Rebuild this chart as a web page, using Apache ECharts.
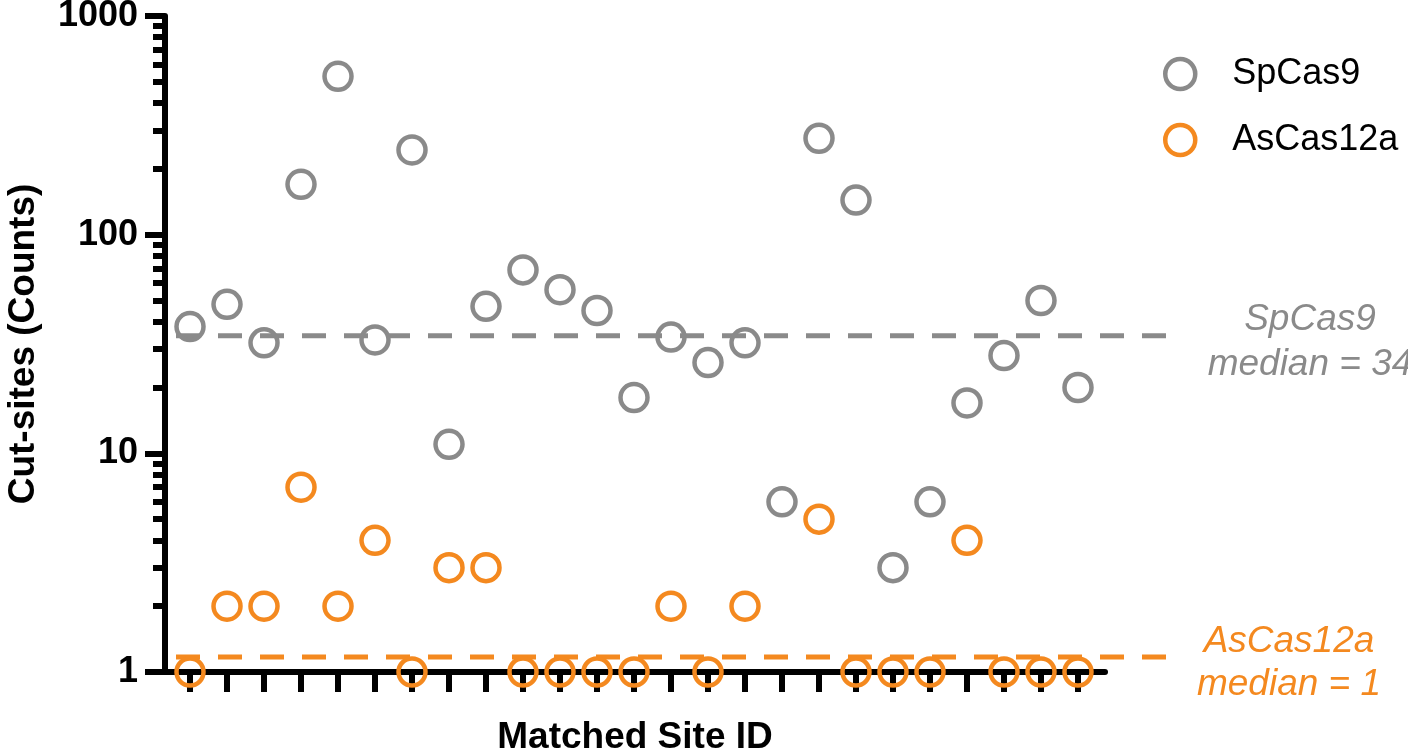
<!DOCTYPE html>
<html>
<head>
<meta charset="utf-8">
<script src="https://cdn.jsdelivr.net/npm/echarts@6/dist/echarts.min.js"></script>
<style>
html,body{margin:0;padding:0;background:#fff;}
#chart{width:1408px;height:753px;}
</style>
</head>
<body>
<div id="chart"></div>
<script>
// ---- data ----
const siteIds = [1,2,3,4,5,6,7,8,9,10,11,12,13,14,15,16,17,18,19,20,21,22,23,24,25];
const spCas9 = [38,48,32,170,530,33,244,11,47,69,56,45,18,34,26,32,6,276,144,3,6,17,28,50,20];
const asCas12a = [1,2,2,7,2,4,1,3,3,1,1,1,1,2,1,2,null,5,1,1,1,4,1,1,1];
const seriesNames = ['SpCas9','AsCas12a'];
const medianValues = [34.5, 1.17];          // where the dashed median lines sit
const medianLabels = ['SpCas9\nmedian = 34', 'AsCas12a\nmedian = 1'];
const yMajorTicks = [1,10,100,1000];
const yMinorTicks = [2,3,4,5,6,7,8,9,20,30,40,50,60,70,80,90,200,300,400,500,600,700,800,900];
const axisTitles = ['Matched Site ID','Cut-sites (Counts)'];

const GRAY = '#8a8a8a';
const ORANGE = '#f4891f';
const FONT = '"Liberation Sans", Arial, Helvetica, sans-serif';

const chart = echarts.init(document.getElementById('chart'), null, {renderer:'canvas'});

const toPairs = arr => arr.map((v,i) => [siteIds[i], v == null ? null : v]);

const option = {
  backgroundColor: '#fff',
  animation: false,
  grid: [
    {left:165, right:303, top:16, bottom:81, containLabel:false, outerBoundsMode:'none'},
    {left:176, right:238, top:16, bottom:81, containLabel:false, outerBoundsMode:'none'}
  ],
  legend: {
    orient:'vertical', left:1163, top:56, padding:0,
    itemWidth:94, itemHeight:30, itemGap:30,
    icon:'circle',
    data: seriesNames,
    textStyle:{fontFamily:FONT, fontSize:36, color:'#000'},
    itemStyle:{color:'rgba(0,0,0,0)', borderWidth:4.5, opacity:1}
  },
  xAxis: [
    {
      type:'value', gridIndex:0, min:0.324, max:25.73,
      axisLine:{show:true, onZero:false, lineStyle:{color:'#000', width:6}},
      axisTick:{show:true, inside:false, length:20, customValues:siteIds, lineStyle:{color:'#000', width:6}},
      axisLabel:{show:false},
      splitLine:{show:false},
      name: axisTitles[0], nameLocation:'middle', nameGap:47,
      nameTextStyle:{fontFamily:FONT, fontSize:37, fontWeight:'bold', color:'#000'}
    },
    {type:'value', gridIndex:1, min:0, max:1, show:false}
  ],
  yAxis: [
    {
      type:'log', logBase:10, gridIndex:0, min:1, max:1000,
      axisLine:{show:true, lineStyle:{color:'#000', width:6}},
      axisTick:{show:true, inside:false, length:20, customValues:yMajorTicks, lineStyle:{color:'#000', width:6}},
      axisLabel:{show:true, customValues:yMajorTicks, margin:27, fontFamily:FONT, fontSize:36, fontWeight:'bold', color:'#000',
                 formatter: v => String(Math.round(v))},
      splitLine:{show:false}, minorTick:{show:false},
      name: axisTitles[1], nameLocation:'middle', nameGap:123, nameRotate:90,
      nameTextStyle:{fontFamily:FONT, fontSize:37, fontWeight:'bold', color:'#000'}
    },
    {
      type:'log', logBase:10, gridIndex:0, min:1, max:1000, position:'left', offset:0,
      axisLine:{show:false},
      axisTick:{show:true, inside:false, length:12, customValues:yMinorTicks, lineStyle:{color:'#000', width:6}},
      axisLabel:{show:false}, splitLine:{show:false}
    },
    {type:'log', logBase:10, gridIndex:1, min:1, max:1000, show:false}
  ],
  series: [
    {
      name:'SpCas9-median', type:'line', xAxisIndex:1, yAxisIndex:2,
      data:[[0,medianValues[0]],[1,medianValues[0]]], symbol:'none', silent:true,
      lineStyle:{color:GRAY, width:5, type:[24,18]}, z:1
    },
    {
      name:'AsCas12a-median', type:'line', xAxisIndex:1, yAxisIndex:2,
      data:[[0,medianValues[1]],[1,medianValues[1]]], symbol:'none', silent:true,
      lineStyle:{color:ORANGE, width:5, type:[24,18]}, z:1
    },
    {
      name:seriesNames[0], type:'scatter', xAxisIndex:0, yAxisIndex:0,
      data: toPairs(spCas9), symbol:'circle', symbolSize:27,
      itemStyle:{color:'rgba(0,0,0,0)', borderColor:GRAY, borderWidth:4.5, opacity:1}, z:3
    },
    {
      name:seriesNames[1], type:'scatter', xAxisIndex:0, yAxisIndex:0,
      data: toPairs(asCas12a), symbol:'circle', symbolSize:27,
      itemStyle:{color:'rgba(0,0,0,0)', borderColor:ORANGE, borderWidth:4.5, opacity:1}, z:4
    }
  ],
  graphic: [
    {type:'text', x:1310, y:342, z:10,
     style:{text:medianLabels[0], fill:GRAY, font:'italic 37px ' + FONT, textAlign:'center', textVerticalAlign:'middle', lineHeight:45}},
    {type:'text', x:1289, y:663, z:10,
     style:{text:medianLabels[1], fill:ORANGE, font:'italic 37px ' + FONT, textAlign:'center', textVerticalAlign:'middle', lineHeight:43}}
  ]
};
chart.setOption(option);
</script>
</body>
</html>
